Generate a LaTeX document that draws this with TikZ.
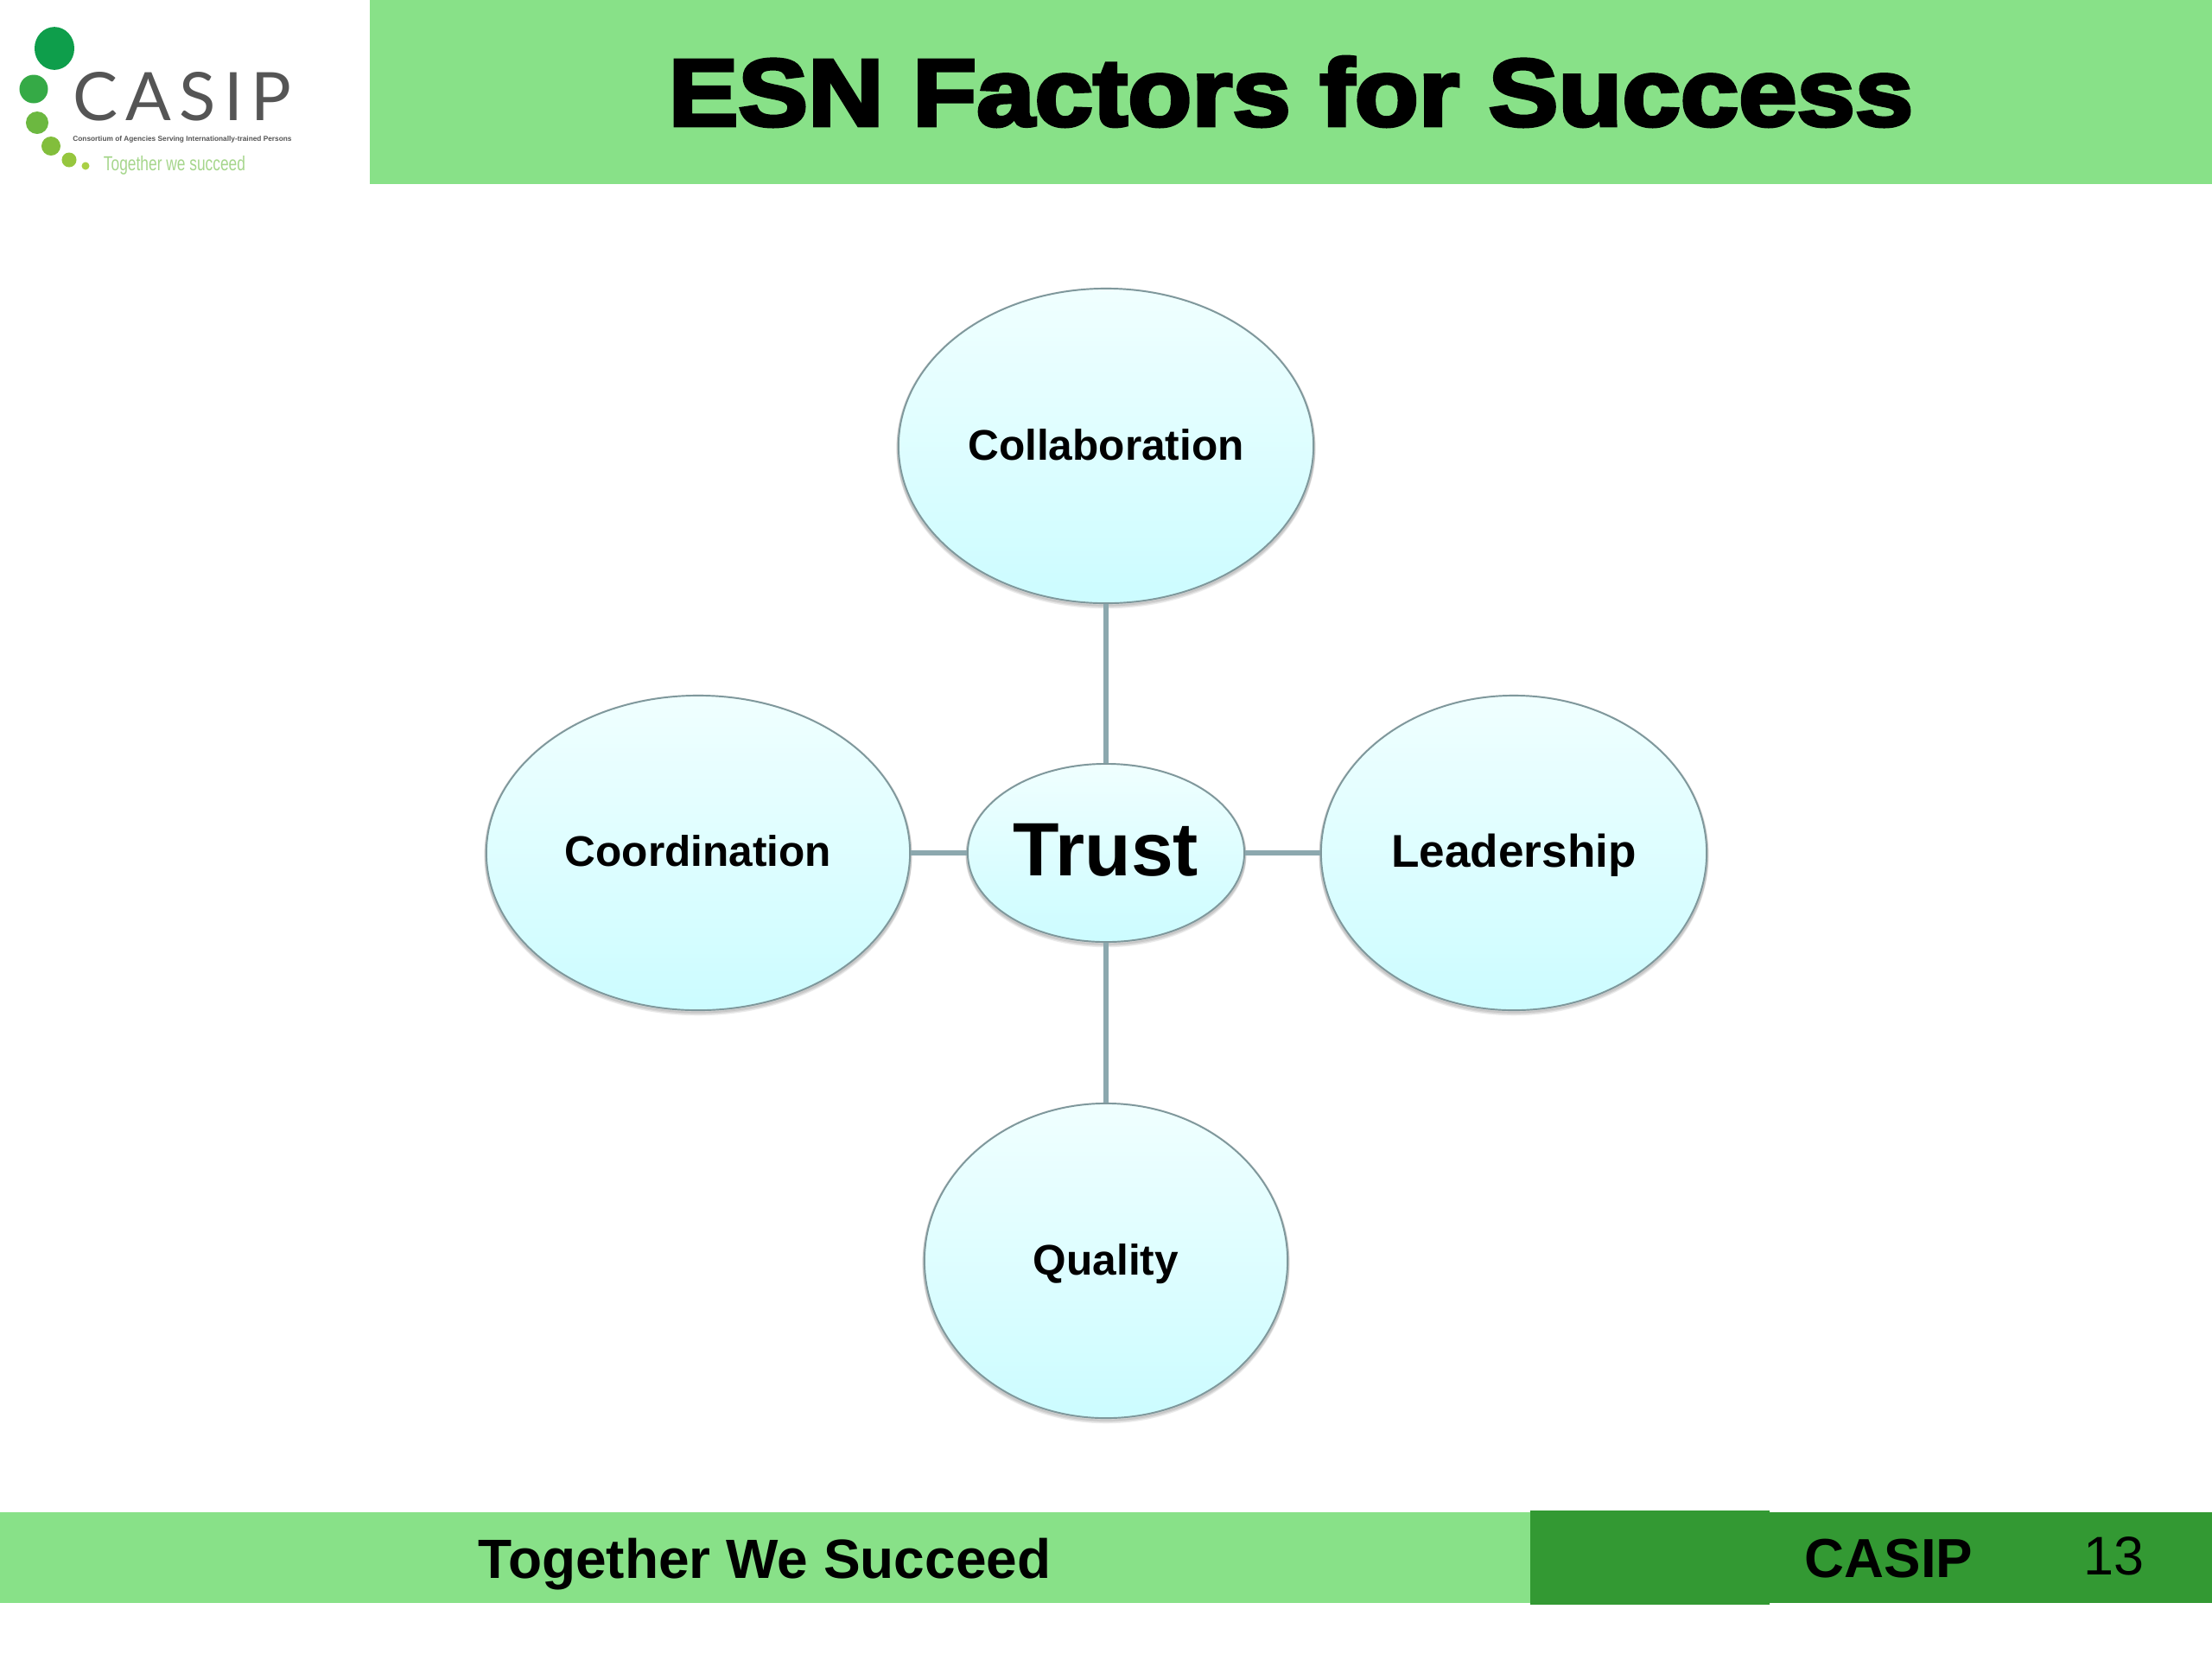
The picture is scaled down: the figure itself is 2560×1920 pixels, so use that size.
\documentclass[tikz,border=0pt]{standalone}
\usepackage{fontspec}
\setmainfont{Liberation Sans}
\newfontfamily\titlefont[FakeBold=3.5]{Liberation Sans Bold}
\newfontfamily\logofont{Lato}
\usetikzlibrary{shapes.geometric}
\definecolor{barlight}{HTML}{88E188}
\definecolor{bardark}{HTML}{339933}
\definecolor{ringcol}{HTML}{7F989C}
\definecolor{linkcol}{HTML}{8CA8AE}
\definecolor{topfill}{HTML}{F0FFFF}
\definecolor{botfill}{HTML}{CCFCFF}
\definecolor{logogrey}{HTML}{555555}
\definecolor{logotag}{HTML}{A6D68C}
\tikzset{
  softshade/.style={preaction={transform canvas={yshift=-#1},draw=black,draw opacity=.08,line width=1.3pt}},
  bubble/.style={ellipse,draw=ringcol,line width=0.55pt,top color=topfill,bottom color=botfill,
    middle color=topfill!50!botfill,inner sep=0pt,font=\bfseries\fontsize{14.1}{16}\selectfont,text=black,
    text height=9pt,text depth=0pt,
    softshade=0.3pt,softshade=0.7pt,softshade=1.1pt},
  link/.style={draw=linkcol,line width=1.9pt},
  dot/.style={circle,inner sep=0pt,draw=none},
  label/.style={inner sep=0pt,text=black}
}
\begin{document}
\begin{tikzpicture}[x=0.01cm,y=-0.01cm]
\useasboundingbox (0,0) rectangle (2560,1920);
\fill[white] (0,0) rectangle (2560,1920);
% header
\fill[barlight] (428,0) rectangle (2560,213);
\node[label] (title) at (1494,106) {\resizebox{14.40cm}{0.80cm}{\titlefont\fontsize{30}{36}\selectfont ESN Factors for Success}};
% footer
\fill[barlight] (0,1750) rectangle (1771,1855);
\fill[bardark] (1771,1748) rectangle (2048,1857);
\fill[bardark] (2048,1750) rectangle (2560,1855);
\node[label,font=\bfseries\fontsize{18.2}{22}\selectfont] (motto) at (885,1810) {Together We Succeed};
\node[label,font=\bfseries\fontsize{18.1}{22}\selectfont] (org) at (2186,1804) {CASIP};
\node[label,font=\fontsize{17.9}{22}\selectfont] (page) at (2446,1801) {13};
% logo
\node[dot,fill={rgb,255:red,14;green,158;blue,75},minimum width=0.46cm,yscale=1.08] (d1) at (63,56) {};
\node[dot,fill={rgb,255:red,53;green,170;blue,70},minimum width=0.33cm] (d2) at (39,103) {};
\node[dot,fill={rgb,255:red,108;green,184;blue,64},minimum width=0.26cm] (d3) at (43,142) {};
\node[dot,fill={rgb,255:red,130;green,190;blue,60},minimum width=0.22cm] (d4) at (59,169) {};
\node[dot,fill={rgb,255:red,150;green,198;blue,62},minimum width=0.17cm] (d5) at (80,185) {};
\node[dot,fill={rgb,255:red,170;green,208;blue,70},minimum width=0.09cm] (d6) at (99,192) {};
\node[inner sep=0pt,text=logogrey] (logoname) at (211,112) {\resizebox{2.53cm}{0.56cm}{\logofont C\kern.12em A\kern.12em S\kern.12em I\kern.12em P}};
\node[inner sep=0pt,text=logogrey] (logosub) at (211,161) {\resizebox{2.53cm}{!}{\bfseries Consortium of Agencies Serving Internationally-trained Persons}};
\node[inner sep=0pt,text=logotag] (logotag) at (202,191) {\resizebox{1.64cm}{0.17cm}{Together we succeed}};
% bubbles
\node[bubble,minimum width=4.80cm,minimum height=3.64cm,text height=9.2pt] (collab) at (1280,516) {Collaboration};
\node[bubble,minimum width=4.90cm,minimum height=3.64cm,text height=8.7pt] (coord) at (808,987) {Coordination};
\node[bubble,minimum width=4.46cm,minimum height=3.64cm,text height=9.6pt,font=\bfseries\fontsize{15.1}{17}\selectfont] (lead) at (1752,987) {Leadership};
\node[bubble,minimum width=4.20cm,minimum height=3.64cm,text height=9.1pt] (qual) at (1280,1459) {Quality};
\node[bubble,minimum width=3.20cm,minimum height=2.06cm,text height=15pt,font=\bfseries\fontsize{24.9}{28}\selectfont] (trust) at (1280,987) {Trust};
% connectors
\draw[link] (collab.south) -- (trust.north);
\draw[link] (trust.south) -- (qual.north);
\draw[link] (coord.east) -- (trust.west);
\draw[link] (trust.east) -- (lead.west);
\end{tikzpicture}
\end{document}
